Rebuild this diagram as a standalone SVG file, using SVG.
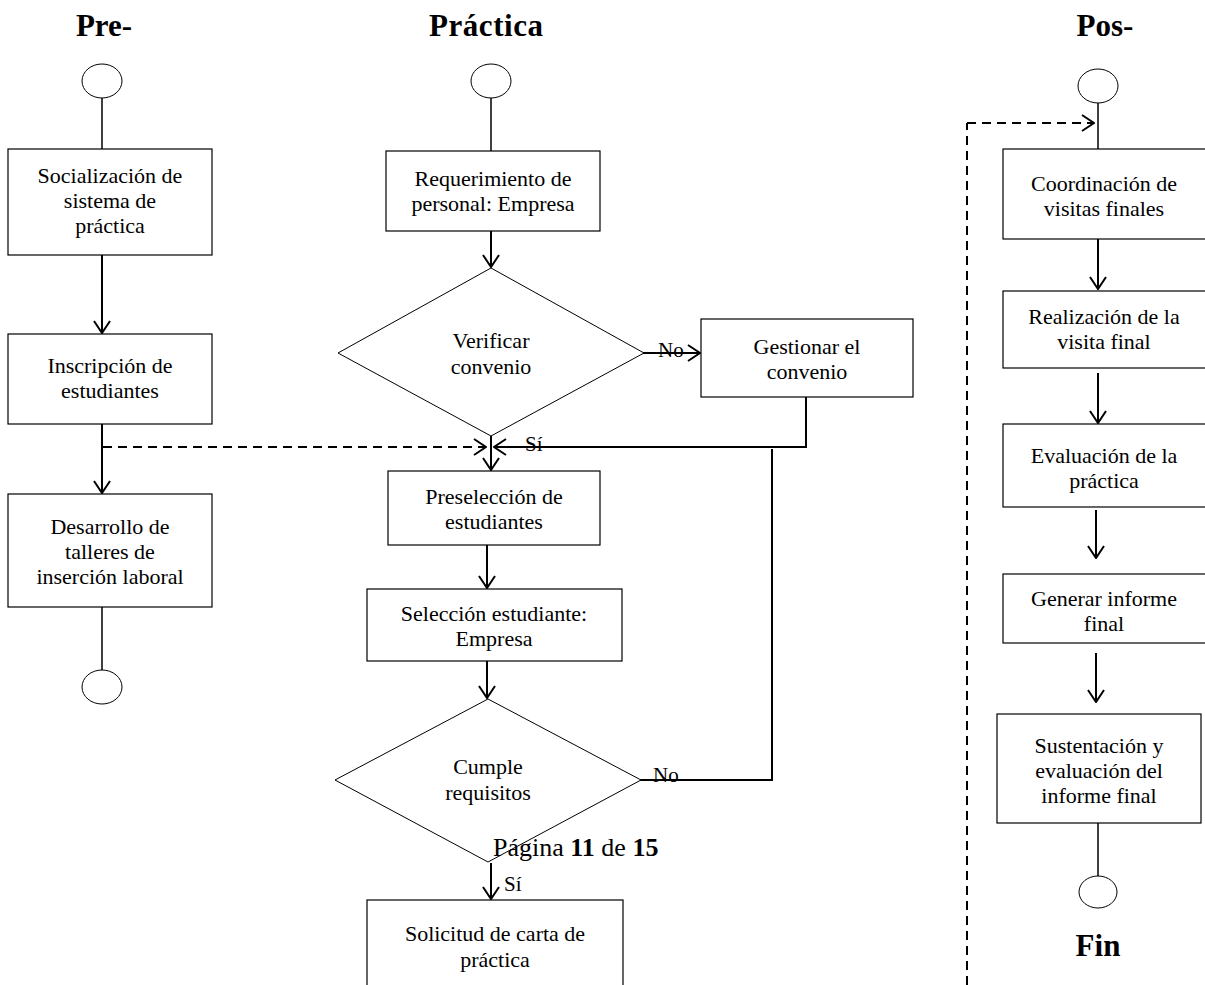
<svg xmlns="http://www.w3.org/2000/svg" width="1205" height="985" viewBox="0 0 1205 985">
<defs>
<marker id="arr" viewBox="0 0 14 20" refX="13" refY="10" markerWidth="14" markerHeight="20" markerUnits="userSpaceOnUse" orient="auto">
<path d="M1,2 L13,10 L1,18" fill="none" stroke="#000" stroke-width="2"/>
</marker>
<style>
.box{fill:#fff;stroke:#000;stroke-width:1.2}
.term{fill:#fff;stroke:#000;stroke-width:1}
.t{font-family:"Liberation Serif","Times New Roman",serif;font-size:22px;fill:#000;text-anchor:middle}
.lbl{font-family:"Liberation Serif","Times New Roman",serif;font-size:21px;fill:#000}
.h{font-family:"Liberation Serif","Times New Roman",serif;font-size:31px;font-weight:bold;fill:#000;text-anchor:middle}
.c{fill:none;stroke:#000;stroke-width:2}
.thin{fill:none;stroke:#000;stroke-width:1.5}
.d{fill:none;stroke:#000;stroke-width:2;stroke-dasharray:9,6}
</style>
</defs>
<rect width="1205" height="985" fill="#fff"/>
<g id="titles">
<text class="h" x="104" y="36">Pre-</text>
<text class="h" x="486" y="36" textLength="114">Práctica</text>
<text class="h" x="1105" y="36">Pos-</text>
</g>
<g id="connectors">
<line class="thin" x1="102" y1="97" x2="102" y2="149"/>
<line class="c" x1="102" y1="255" x2="102" y2="333" marker-end="url(#arr)"/>
<line class="c" x1="102" y1="424" x2="102" y2="493" marker-end="url(#arr)"/>
<line class="thin" x1="102" y1="607" x2="102" y2="671"/>
<line class="d" x1="103" y1="447" x2="486" y2="447" marker-end="url(#arr)"/>
<line class="thin" x1="491" y1="97" x2="491" y2="151"/>
<line class="c" x1="491" y1="231" x2="491" y2="267" marker-end="url(#arr)"/>
<line class="c" x1="643" y1="353" x2="700" y2="353" marker-end="url(#arr)"/>
<polyline class="c" points="806,397 806,447 494,447" marker-end="url(#arr)"/>
<line class="c" x1="491" y1="436" x2="491" y2="470" marker-end="url(#arr)"/>
<line class="c" x1="487" y1="545" x2="487" y2="588" marker-end="url(#arr)"/>
<line class="c" x1="487" y1="661" x2="487" y2="698" marker-end="url(#arr)"/>
<polyline class="c" points="640,780 772,780 772,449"/>
<line class="c" x1="491" y1="863" x2="491" y2="899" marker-end="url(#arr)"/>
<line class="d" x1="967" y1="985" x2="967" y2="123"/>
<line class="d" x1="967" y1="123" x2="1094" y2="123" marker-end="url(#arr)"/>
<line class="thin" x1="1098" y1="102" x2="1098" y2="149"/>
<line class="c" x1="1098" y1="239" x2="1098" y2="289" marker-end="url(#arr)"/>
<line class="c" x1="1098" y1="373" x2="1098" y2="423" marker-end="url(#arr)"/>
<line class="c" x1="1096" y1="510" x2="1096" y2="558" marker-end="url(#arr)"/>
<line class="c" x1="1096" y1="653" x2="1096" y2="702" marker-end="url(#arr)"/>
<line class="thin" x1="1098" y1="823" x2="1098" y2="877"/>
</g>
<g id="pre-start"><ellipse class="term" cx="102" cy="81" rx="20" ry="17"/></g>
<g id="pre-1"><rect class="box" x="8" y="149" width="204" height="106"/>
<text class="t" x="110" y="183">Socialización  de</text><text class="t" x="110" y="208">sistema de</text><text class="t" x="110" y="233">práctica</text></g>
<g id="pre-2"><rect class="box" x="8" y="334" width="204" height="90"/>
<text class="t" x="110" y="373">Inscripción de</text><text class="t" x="110" y="398">estudiantes</text></g>
<g id="pre-3"><rect class="box" x="8" y="494" width="204" height="113"/>
<text class="t" x="110" y="534">Desarrollo de</text><text class="t" x="110" y="559">talleres de</text><text class="t" x="110" y="584">inserción laboral</text></g>
<g id="pre-end"><ellipse class="term" cx="102" cy="687" rx="20" ry="17"/></g>

<g id="pr-start"><ellipse class="term" cx="491" cy="81" rx="20" ry="17"/></g>
<g id="pr-1"><rect class="box" x="386" y="151" width="214" height="80"/>
<text class="t" x="493" y="186">Requerimiento de</text><text class="t" x="493" y="211">personal: Empresa</text></g>
<g id="pr-d1"><polygon class="term" points="491,268 644,353 491,436 338,353"/>
<text class="t" x="491" y="348">Verificar</text><text class="t" x="491" y="374">convenio</text></g>
<g id="pr-gest"><rect class="box" x="701" y="319" width="212" height="78"/>
<text class="t" x="807" y="354">Gestionar el</text><text class="t" x="807" y="379">convenio</text></g>
<g id="pr-2"><rect class="box" x="388" y="471" width="212" height="74"/>
<text class="t" x="494" y="504">Preselección de</text><text class="t" x="494" y="529">estudiantes</text></g>
<g id="pr-3"><rect class="box" x="367" y="589" width="255" height="72"/>
<text class="t" x="494" y="621">Selección estudiante:</text><text class="t" x="494" y="646">Empresa</text></g>
<g id="pr-d2"><polygon class="term" points="488,699 641,780 488,862 335,780"/>
<text class="t" x="488" y="774">Cumple</text><text class="t" x="488" y="800">requisitos</text></g>
<g id="pr-4"><rect class="box" x="367" y="900" width="256" height="100"/>
<text class="t" x="495" y="941">Solicitud de carta de</text><text class="t" x="495" y="967">práctica</text></g>
<g id="labels">
<text class="lbl" x="658" y="357">No</text>
<text class="lbl" x="525" y="451">Sí</text>
<text class="lbl" x="653" y="782">No</text>
<text class="lbl" x="504" y="891">Sí</text>
<text class="lbl" x="493" y="856" style="font-size:26px">Página <tspan font-weight="bold">11</tspan> de <tspan font-weight="bold">15</tspan></text>
</g>

<g id="pos-start"><ellipse class="term" cx="1098" cy="86" rx="20" ry="17"/></g>
<g id="pos-1"><rect class="box" x="1003" y="149" width="210" height="90"/>
<text class="t" x="1104" y="191">Coordinación de</text><text class="t" x="1104" y="216">visitas finales</text></g>
<g id="pos-2"><rect class="box" x="1003" y="291" width="210" height="77"/>
<text class="t" x="1104" y="324">Realización de la</text><text class="t" x="1104" y="349">visita final</text></g>
<g id="pos-3"><rect class="box" x="1003" y="424" width="210" height="83"/>
<text class="t" x="1104" y="463">Evaluación de la</text><text class="t" x="1104" y="488">práctica</text></g>
<g id="pos-4"><rect class="box" x="1003" y="574" width="210" height="69"/>
<text class="t" x="1104" y="606">Generar informe</text><text class="t" x="1104" y="631">final</text></g>
<g id="pos-5"><rect class="box" x="997" y="714" width="204" height="109"/>
<text class="t" x="1099" y="753">Sustentación y</text><text class="t" x="1099" y="778">evaluación del</text><text class="t" x="1099" y="803">informe final</text></g>
<g id="pos-end"><ellipse class="term" cx="1098" cy="892" rx="19" ry="16"/>
<text class="h" x="1098" y="956">Fin</text></g>
</svg>
